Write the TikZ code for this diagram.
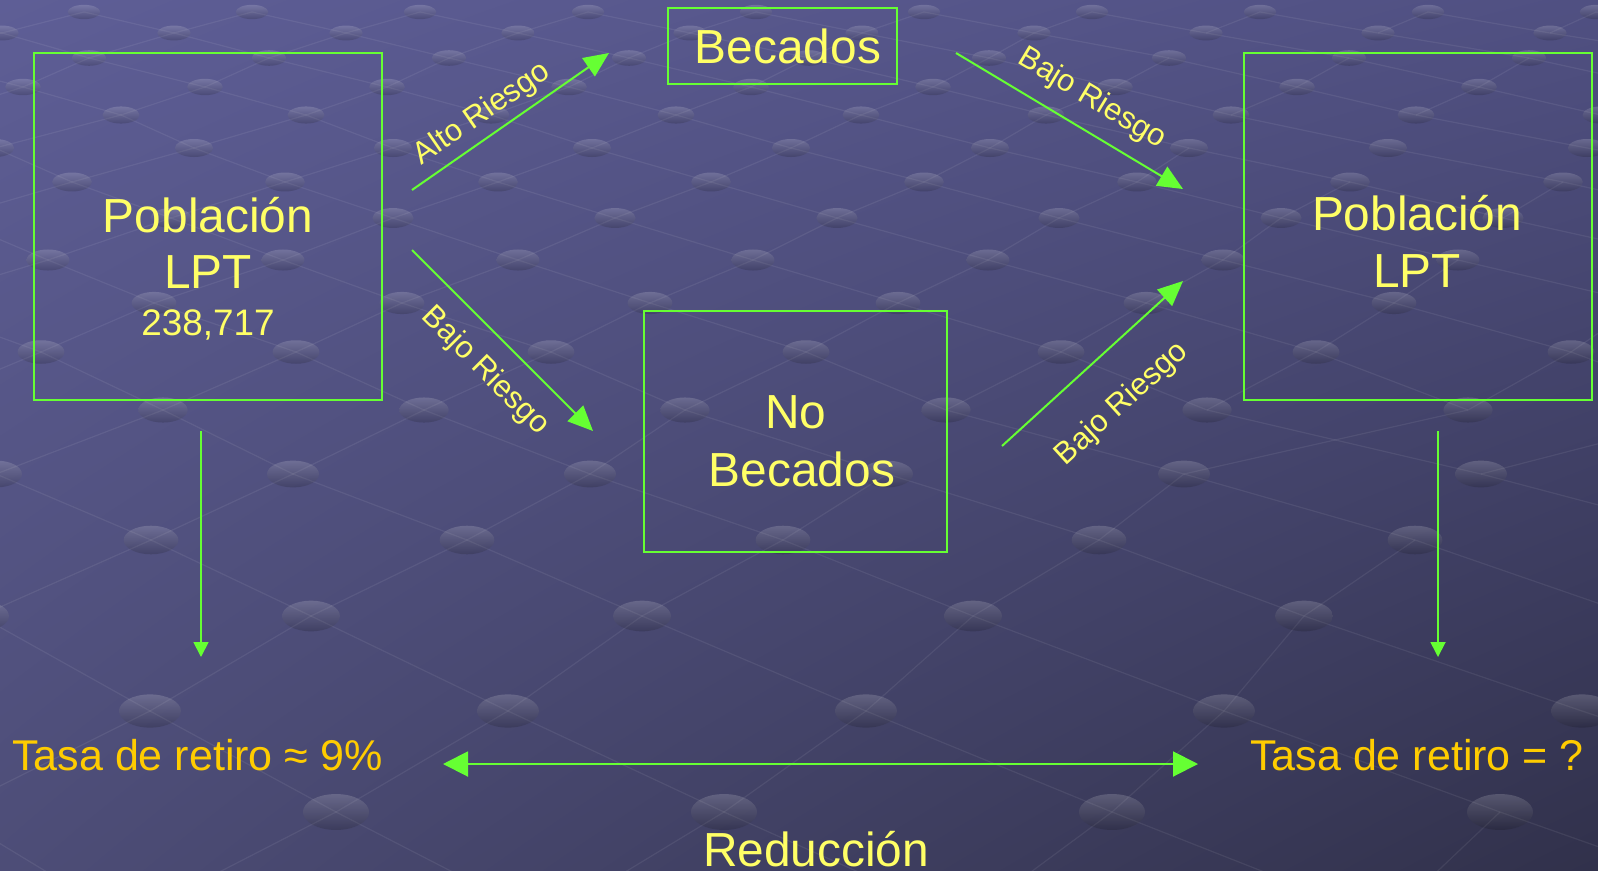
\documentclass[tikz,border=0pt]{standalone}
\usepackage{fontspec}
\setmainfont{Liberation Sans}
\usetikzlibrary{arrows.meta,shadings}
\definecolor{grn}{HTML}{66FF33}
\definecolor{ylw}{HTML}{FFFF66}
\definecolor{gld}{HTML}{FFCC00}
\definecolor{bgUL}{HTML}{5E5E96}
\definecolor{bgUR}{HTML}{505082}
\definecolor{bgLL}{HTML}{4D4D77}
\definecolor{bgLR}{HTML}{31314B}
\def\RowY{{12,33,58,87,115,148,182,218,260,303,352,410,474,540,616,711,812,920}}
\def\RowX{{420,518,449,569,676,592,498,615,518,650,296,163,293,151,311,150,336,546}}
\def\RowS{{168,172,180,182,185,199,213,222,235,248,255,261,297,316,331,358,388,420}}
\tikzset{
  gbox/.style={draw=grn, line width=2bp, inner sep=0pt},
  bigtxt/.style={text=ylw, font=\fontsize{48}{56}\selectfont, inner sep=0pt, anchor=base},
  numtxt/.style={text=ylw, font=\fontsize{37}{42}\selectfont, inner sep=0pt, anchor=base},
  labtxt/.style={text=ylw, font=\fontsize{31}{36}\selectfont, inner sep=0pt},
  ratetxt/.style={text=gld, font=\fontsize{43.2}{50}\selectfont, inner sep=0pt, anchor=base west},
  garrow/.style={draw=grn, line width=2bp, -{Triangle[length=25bp,width=22bp]}},
  darrow/.style={draw=grn, line width=1.8bp, -{Triangle[length=15bp,width=15bp]}},
  harrow/.style={draw=grn, line width=2bp, {Triangle[length=25bp,width=25bp]}-{Triangle[length=25bp,width=25bp]}},
  dotshape/.style={top color=white, bottom color=black, opacity=0.17},
  gridline/.style={draw=white, opacity=0.07, line width=1.2bp},
}
\begin{document}
\begin{tikzpicture}[x=1bp,y=-1bp]
\useasboundingbox (0,0) rectangle (1598,870);
\shade[upper left=bgUL, upper right=bgUR, lower left=bgLL, lower right=bgLR] (0,0) rectangle (1598,870);
% background lattice
\begin{scope}
\clip (0,0) rectangle (1598,870);
\foreach \i in {0,...,16}{
  \pgfmathsetmacro\ya{\RowY[\i]}
  \pgfmathsetmacro\xa{\RowX[\i]}
  \pgfmathsetmacro\sa{\RowS[\i]}
  \pgfmathtruncatemacro\j{\i+1}
  \pgfmathsetmacro\yb{\RowY[\j]}
  \pgfmathsetmacro\xb{\RowX[\j]}
  \pgfmathsetmacro\sb{\RowS[\j]}
  \foreach \k in {-6,...,10}{
    \pgfmathsetmacro\xx{\xa+\k*\sa}
    \pgfmathsetmacro\xl{\xb+floor((\xx-\xb)/\sb)*\sb}
    \pgfmathsetmacro\xr{\xl+\sb}
    \pgfmathsetmacro\dl{abs(\xx-\xl)/\sb}
    \pgfmathsetmacro\dr{abs(\xr-\xx)/\sb}
    \ifdim \dl pt>0.22pt \draw[gridline] (\xl,\yb) -- (\xx,\ya); \fi
    \ifdim \dr pt>0.22pt \draw[gridline] (\xx,\ya) -- (\xr,\yb); \fi
  }
}
\foreach \i in {0,...,16}{
  \pgfmathsetmacro\ya{\RowY[\i]}
  \pgfmathsetmacro\xa{\RowX[\i]}
  \pgfmathsetmacro\sa{\RowS[\i]}
  \pgfmathsetmacro\rx{16+\ya*0.021}
  \pgfmathsetmacro\ry{7+\ya*0.0135}
  \foreach \k in {-6,...,10}{
    \pgfmathsetmacro\xx{\xa+\k*\sa}
    \shade[dotshape] (\xx,\ya) ellipse [x radius=\rx, y radius=\ry];
  }
}
\end{scope}
% boxes
\node[gbox, minimum width=348bp, minimum height=347bp] (lbox) at (208,226.5) {};
\node[gbox, minimum width=348bp, minimum height=347bp] (rbox) at (1418,226.5) {};
\node[gbox, minimum width=229bp, minimum height=76bp] (bbox) at (782.5,46) {};
\node[gbox, minimum width=303bp, minimum height=241bp] (nbox) at (795.5,431.5) {};
% box texts
\node[bigtxt] (lt1) at (208,232) {Población};
\node[bigtxt] (lt2) at (208,288) {LPT};
\node[numtxt] (lt3) at (208,335) {238,717};
\node[bigtxt] (rt1) at (1417,230) {Población};
\node[bigtxt] (rt2) at (1417,287) {LPT};
\node[bigtxt] (bt) at (788,63) {Becados};
\node[bigtxt] (nt1) at (796,428) {No};
\node[bigtxt] (nt2) at (802,486) {Becados};
% arrow end points
\coordinate (a1s) at (412,190); \coordinate (a1e) at (609,53);
\coordinate (a2s) at (412,250); \coordinate (a2e) at (593,431);
\coordinate (a3s) at (956,53);  \coordinate (a3e) at (1183,189);
\coordinate (a4s) at (1002,446); \coordinate (a4e) at (1183,281);
\coordinate (d1s) at (201,431); \coordinate (d1e) at (201,657);
\coordinate (d2s) at (1438,431); \coordinate (d2e) at (1438,657);
\coordinate (h1) at (443,764); \coordinate (h2) at (1198,764);
\draw[garrow] (a1s) -- (a1e);
\draw[garrow] (a2s) -- (a2e);
\draw[garrow] (a3s) -- (a3e);
\draw[garrow] (a4s) -- (a4e);
\draw[darrow] (d1s) -- (d1e);
\draw[darrow] (d2s) -- (d2e);
\draw[harrow] (h1) -- (h2);
% arrow labels
\node[labtxt, rotate=34.5] (l1) at (482,114) {Alto Riesgo};
\node[labtxt, rotate=-45] (l2) at (485,371) {Bajo Riesgo};
\node[labtxt, rotate=-31] (l3) at (1092,99) {Bajo Riesgo};
\node[labtxt, rotate=42.4] (l4) at (1122,404) {Bajo Riesgo};
% bottom texts
\node[ratetxt] (tl) at (12,770) {Tasa de retiro ≈ 9\%};
\node[ratetxt] (tr) at (1250,770) {Tasa de retiro = ?};
\node[bigtxt] (red) at (816,866) {Reducción};
\end{tikzpicture}
\end{document}
